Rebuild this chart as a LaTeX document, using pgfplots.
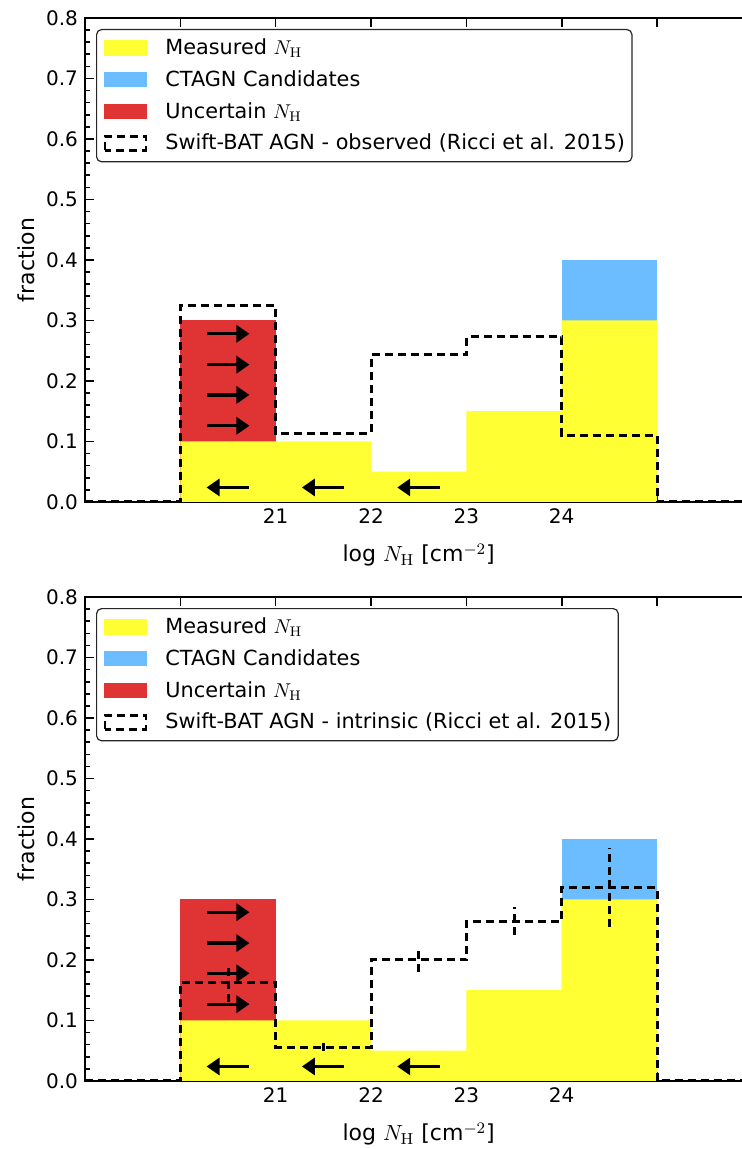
\documentclass[border=0pt]{standalone}
\usepackage[no-math]{fontspec}
\setmainfont{DejaVu Sans}
\usepackage{pgfplots}
\pgfplotsset{compat=1.18}
\usetikzlibrary{arrows.meta}
\definecolor{myyellow}{RGB}{255,255,51}
\definecolor{myblue}{RGB}{107,189,255}
\definecolor{myred}{RGB}{224,51,51}

\pgfplotsset{
 nhpanel/.style={
  scale only axis, width=333.7pt, height=242pt,
  xmin=19, xmax=26, ymin=0, ymax=0.8,
  xtick={20,21,22,23,24,25}, xticklabels={{},21,22,23,24,{}},
  ytick={0,0.1,0.2,0.3,0.4,0.5,0.6,0.7,0.8}, minor y tick num=4,
  tick align=inside, major tick length=4.5pt, minor tick length=2.5pt,
  every tick/.style={black, line width=0.8pt},
  axis line style={line width=0.8pt},
  tick label style={font=\fontsize{10}{12}\selectfont},
  /pgf/number format/assume math mode=true,
  yticklabel style={/pgf/number format/.cd, fixed, fixed zerofill, precision=1},
  ylabel={fraction},
  ylabel style={font=\fontsize{11}{13}\selectfont, at={(axis description cs:-0.0764,0.5)}, anchor=base},
  xlabel={log $N_{\mathrm{H}}$ [cm$^{-2}$]},
  xlabel style={font=\fontsize{11}{13}\selectfont, at={(axis description cs:0.5,0)}, anchor=base, yshift=-30pt},
  legend style={at={(0,1)}, anchor=north west, xshift=5.5pt, yshift=-5.5pt,
    draw=black!85, line width=0.6pt, rounded corners=2.5pt,
    font=\fontsize{10.4}{12.5}\selectfont, cells={anchor=west},
    inner xsep=3.5pt, inner ysep=2.5pt, row sep=2.5pt,
    /tikz/column 1/.style={column sep=9pt},
    nodes={inner xsep=0pt}},
  histo/.style={const plot, black, line width=1.5pt, dash pattern=on 4pt off 2.5pt},
  arr/.style={black, line width=1.6pt, -{Triangle[length=6.5pt,width=8.5pt]}},
 }
}

\begin{document}
\begin{tikzpicture}
% ---------------- top panel ----------------
\begin{axis}[nhpanel, at={(42.5pt,-9pt)}, anchor=north west]
\addlegendimage{legend image code/.code={\fill[myyellow,sharp corners] (0pt,-3.5pt) rectangle (20.5pt,3.5pt);}}
\addlegendentry{Measured $N_{\mathrm{H}}$}
\addlegendimage{legend image code/.code={\fill[myblue,sharp corners] (0pt,-3.5pt) rectangle (20.5pt,3.5pt);}}
\addlegendentry{CTAGN Candidates}
\addlegendimage{legend image code/.code={\fill[myred,sharp corners] (0pt,-3.5pt) rectangle (20.5pt,3.5pt);}}
\addlegendentry{Uncertain $N_{\mathrm{H}}$}
\addlegendimage{legend image code/.code={\draw[black,sharp corners,line width=1.4pt,dash pattern=on 4pt off 2.5pt] (0pt,-3.5pt) rectangle (20.5pt,3.5pt);}}
\addlegendentry{Swift-BAT AGN - observed (Ricci et al. 2015)}
% CTAGN candidates (total incl. candidates)
\addplot[forget plot, fill=myblue, draw=none] coordinates {(24,0) (24,0.4) (25,0.4) (25,0)} -- cycle;
% Uncertain NH (total)
\addplot[forget plot, fill=myred, draw=none] coordinates {(20,0) (20,0.3) (21,0.3) (21,0)} -- cycle;
% Measured NH
\addplot[forget plot, const plot, fill=myyellow, draw=none] coordinates {(20,0.1) (21,0.1) (22,0.05) (23,0.15) (24,0.3) (25,0.3)} \closedcycle;
% Swift-BAT observed
\addplot[forget plot, histo] coordinates {(19,0) (20,0.324) (21,0.113) (22,0.243) (23,0.273) (24,0.11) (25,0) (26,0)};
% arrows
\addplot[forget plot, arr, quiver={u=\thisrow{u}, v=\thisrow{v}}] table {
x y u v
20.28 0.278 0.445 0
20.28 0.227 0.445 0
20.28 0.177 0.445 0
20.28 0.126 0.445 0
20.72 0.024 -0.445 0
21.72 0.024 -0.445 0
22.72 0.024 -0.445 0
};
\end{axis}
% ---------------- bottom panel ----------------
\begin{axis}[nhpanel, at={(42.5pt,-298.5pt)}, anchor=north west]
\addlegendimage{legend image code/.code={\fill[myyellow,sharp corners] (0pt,-3.5pt) rectangle (20.5pt,3.5pt);}}
\addlegendentry{Measured $N_{\mathrm{H}}$}
\addlegendimage{legend image code/.code={\fill[myblue,sharp corners] (0pt,-3.5pt) rectangle (20.5pt,3.5pt);}}
\addlegendentry{CTAGN Candidates}
\addlegendimage{legend image code/.code={\fill[myred,sharp corners] (0pt,-3.5pt) rectangle (20.5pt,3.5pt);}}
\addlegendentry{Uncertain $N_{\mathrm{H}}$}
\addlegendimage{legend image code/.code={\draw[black,sharp corners,line width=1.4pt,dash pattern=on 4pt off 2.5pt] (0pt,-3.5pt) rectangle (20.5pt,3.5pt);}}
\addlegendentry{Swift-BAT AGN - intrinsic (Ricci et al. 2015)}
\addplot[forget plot, fill=myblue, draw=none] coordinates {(24,0) (24,0.4) (25,0.4) (25,0)} -- cycle;
\addplot[forget plot, fill=myred, draw=none] coordinates {(20,0) (20,0.3) (21,0.3) (21,0)} -- cycle;
\addplot[forget plot, const plot, fill=myyellow, draw=none] coordinates {(20,0.1) (21,0.1) (22,0.05) (23,0.15) (24,0.3) (25,0.3)} \closedcycle;
% Swift-BAT intrinsic
\addplot[forget plot, histo] coordinates {(19,0) (20,0.162) (21,0.056) (22,0.200) (23,0.264) (24,0.320) (25,0) (26,0)};
% uncertainties of intrinsic distribution (vertical bars at bin centres)
\addplot[forget plot, black, line width=1.5pt, dash pattern=on 4pt off 2.5pt, mark=none, unbounded coords=jump]
  coordinates {(20.5,0.131) (20.5,0.193) (20.5,nan)
               (21.5,0.050) (21.5,0.062) (21.5,nan)
               (22.5,0.180) (22.5,0.220) (22.5,nan)
               (23.5,0.241) (23.5,0.287) (23.5,nan)
               (24.5,0.255) (24.5,0.385)};
\addplot[forget plot, arr, quiver={u=\thisrow{u}, v=\thisrow{v}}] table {
x y u v
20.28 0.279 0.445 0
20.28 0.228 0.445 0
20.28 0.178 0.445 0
20.28 0.127 0.445 0
20.72 0.024 -0.445 0
21.72 0.024 -0.445 0
22.72 0.024 -0.445 0
};
\end{axis}
\pgfresetboundingbox
\path[use as bounding box] (0,0) rectangle (371pt,-574.5pt);
\end{tikzpicture}
\end{document}
